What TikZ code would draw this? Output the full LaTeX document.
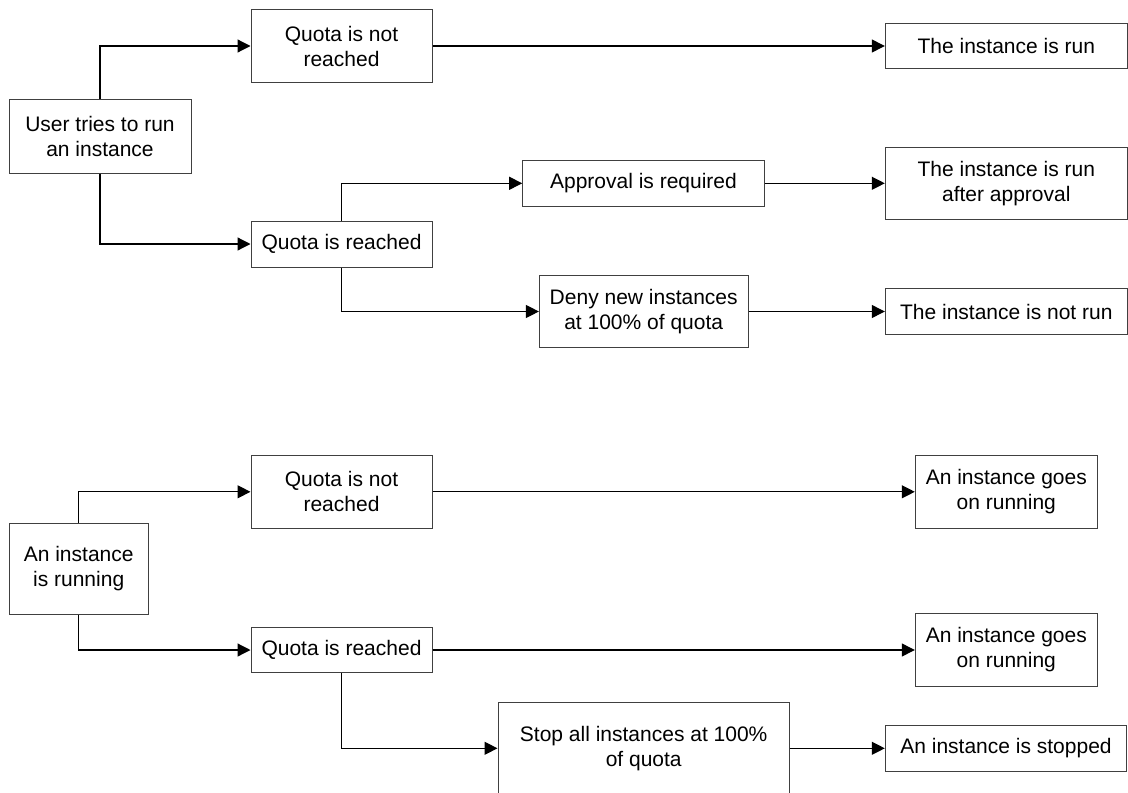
\documentclass[tikz,border=0pt]{standalone}
\usepackage{fontspec}
\setmainfont{Liberation Sans}
\usetikzlibrary{arrows.meta}
\begin{document}
\begin{tikzpicture}[x=0.5pt,y=-0.5pt,
  box/.style={draw=black!75, line width=0.5pt, align=center, inner sep=0pt,
    font=\fontsize{10.5pt}{12.5pt}\selectfont},
  link/.style={line width=0.6pt, -{Triangle[length=6.5pt,width=6.5pt]}},
]
\useasboundingbox (0,0) rectangle (1128,792);

% --- starting an instance ---
\node[box, minimum width=91pt,   minimum height=36.5pt] (user)   at (100,136.5)   {User tries to run\\an instance};
\node[box, minimum width=90.5pt, minimum height=36.5pt] (qnr1)   at (341.5,46)    {Quota is not\\reached};
\node[box, minimum width=90.5pt, minimum height=23pt]   (qr1)    at (341.5,244)   {Quota is reached};
\node[box, minimum width=121pt,  minimum height=22.7pt] (run1)   at (1006.3,46)   {The instance is run};
\node[box, minimum width=120.8pt,minimum height=22.7pt] (appr)   at (643.5,183.3) {Approval is required};
\node[box, minimum width=121pt,  minimum height=36.3pt] (runa)   at (1006.3,183.3){The instance is run\\after approval};
\node[box, minimum width=104.3pt,minimum height=36.2pt] (deny)   at (643.7,311.5) {Deny new instances\\at 100\% of quota};
\node[box, minimum width=121pt,  minimum height=22.7pt] (notrun) at (1006.3,311.5){The instance is not run};

\draw[link] (user.north) |- (qnr1.west);
\draw[link] (user.south) |- (qr1.west);
\draw[link] (qnr1.east) -- (run1.west);
\draw[link] (qr1.north) |- (appr.west);
\draw[link] (qr1.south) |- (deny.west);
\draw[link] (appr.east) -- (runa.west);
\draw[link] (deny.east) -- (notrun.west);

% --- a running instance ---
\node[box, minimum width=69.3pt, minimum height=45.3pt] (running) at (78.7,568.7)  {An instance\\is running};
\node[box, minimum width=90.5pt, minimum height=36.2pt] (qnr2)    at (341.5,491.8) {Quota is not\\reached};
\node[box, minimum width=90.5pt, minimum height=22.7pt] (qr2)     at (341.5,650)   {Quota is reached};
\node[box, minimum width=91pt,   minimum height=36.3pt] (goes1)   at (1006.3,491.8){An instance goes\\on running};
\node[box, minimum width=91pt,   minimum height=36.3pt] (goes2)   at (1006.3,650)  {An instance goes\\on running};
\node[box, minimum width=145.7pt,minimum height=45.5pt] (stop)    at (643.7,748.3) {Stop all instances at 100\%\\of quota};
\node[box, minimum width=120.7pt,minimum height=22.7pt] (stopped) at (1006,748.3)  {An instance is stopped};

\draw[link] (running.north) |- (qnr2.west);
\draw[link] (running.south) |- (qr2.west);
\draw[link] (qnr2.east) -- (goes1.west);
\draw[link] (qr2.east) -- (goes2.west);
\draw[link] (qr2.south) |- (stop.west);
\draw[link] (stop.east) -- (stopped.west);
\end{tikzpicture}
\end{document}
